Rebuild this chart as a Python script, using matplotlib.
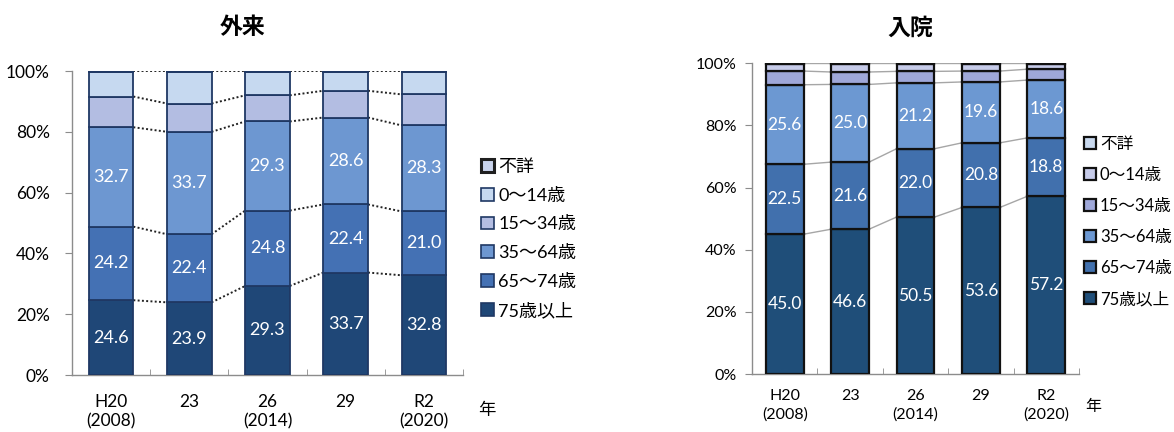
import matplotlib
matplotlib.use("Agg")
import matplotlib.pyplot as plt
from matplotlib.patches import Patch
import numpy as np

plt.rcParams['font.family'] = ['Lato', 'Noto Sans CJK JP', 'DejaVu Sans']

categories = ["H20\n(2008)", "23", "26\n(2014)", "29", "R2\n(2020)"]
groups = ["75歳以上", "65～74歳", "35～64歳", "15～34歳", "0～14歳", "不詳"]

# 外来 (outpatient) shares, %
out_75 = [24.6, 23.9, 29.3, 33.7, 32.8]
out_65 = [24.2, 22.4, 24.8, 22.4, 21.0]
out_35 = [32.7, 33.7, 29.3, 28.6, 28.3]
out_15 = [10.1, 9.3, 8.6, 8.8, 10.2]
out_0 = [8.1, 10.5, 7.8, 6.3, 7.5]
out_unk = [0.3, 0.2, 0.2, 0.2, 0.2]

# 入院 (inpatient) shares, %
in_75 = [45.0, 46.6, 50.5, 53.6, 57.2]
in_65 = [22.5, 21.6, 22.0, 20.8, 18.8]
in_35 = [25.6, 25.0, 21.2, 19.6, 18.6]
in_15 = [4.4, 4.0, 3.7, 3.5, 3.5]
in_0 = [2.2, 2.5, 2.3, 2.2, 1.6]
in_unk = [0.3, 0.3, 0.3, 0.3, 0.3]

W, H = 1174, 432
fig = plt.figure(figsize=(W / 100, H / 100), dpi=100)


def px_axes(x0, y_top, x1, y_bot):
    return fig.add_axes([x0 / W, (H - y_bot) / H, (x1 - x0) / W, (y_bot - y_top) / H])


def draw(ax, series, colors, edge, edge_lw, width, line_style, labelled, lab_fs, tick_fs, pad_x, pad_y, lsp):
    x = np.arange(len(categories))
    bottom = np.zeros(len(categories))
    tops = []
    for i, vals in enumerate(series):
        vals = np.array(vals, dtype=float)
        ax.bar(x, vals, width, bottom=bottom, color=colors[i], edgecolor=edge,
               linewidth=edge_lw, zorder=3)
        if i in labelled:
            for xi, b, v in zip(x, bottom, vals):
                ax.text(xi, b + v / 2, f"{v:.1f}", ha='center', va='center',
                        color='white', fontsize=lab_fs, zorder=4)
        bottom = bottom + vals
        tops.append(bottom.copy())
    # connector lines
    for idx in [0, 1, 2, 3, len(series) - 1]:
        t = tops[idx]
        for j in range(len(categories) - 1):
            ax.plot([x[j] + width / 2, x[j + 1] - width / 2], [t[j], t[j + 1]], zorder=2, **line_style)
    ax.set_xlim(-0.5, len(categories) - 0.5)
    ax.set_ylim(0, 100)
    for s in ['top', 'right']:
        ax.spines[s].set_visible(False)
    for s in ['left', 'bottom']:
        ax.spines[s].set_color('#8c8c8c')
        ax.spines[s].set_linewidth(1.0)
    ax.set_yticks(np.arange(0, 101, 20))
    ax.set_yticklabels([f"{v}%" for v in range(0, 101, 20)], fontsize=tick_fs)
    ax.tick_params(axis='y', direction='out', length=5, color='#8c8c8c', pad=pad_y)
    ax.set_xticks(x)
    ax.set_xticklabels(categories, fontsize=tick_fs, linespacing=lsp)
    ax.tick_params(axis='x', length=0, pad=pad_x)
    ax.set_xticks(np.arange(-0.5, len(categories), 1.0), minor=True)
    ax.tick_params(axis='x', which='minor', direction='in', length=4, color='#8c8c8c')


# ---- left: 外来 ----
axL = px_axes(72, 71, 463, 375)
colL = ['#1f4777', '#4471b4', '#6d97d1', '#b3bde2', '#c6d9f0', '#c9d3ec']
draw(axL, [out_75, out_65, out_35, out_15, out_0, out_unk], colL, '#1f3864', 1.3, 0.57,
     dict(color='#222222', lw=1.4, linestyle=(0, (1, 1.2))), [0, 1, 2], 13, 12.5, 13.5, 11, 1.25)
fig.text(243 / W, 1 - 28 / H, "外来", ha='center', va='center', fontsize=16.5, fontweight='bold',
         family=['Noto Sans CJK JP'])
fig.text(487 / W, 1 - 410 / H, "年", ha='center', va='center', fontsize=12.5)
hL = [Patch(facecolor=c, edgecolor='#1f1f1f' if k == 5 else '#1f3864', linewidth=2.2 if k == 5 else 1.2)
      for k, c in enumerate(colL)]
fig.legend(hL[::-1], groups[::-1], loc='upper left', bbox_to_anchor=(481 / W, 1 - 159 / H),
           frameon=False, fontsize=13, handlelength=0.7, handleheight=0.7,
           handletextpad=0.25, labelspacing=0.7, borderaxespad=0, borderpad=0)

# ---- right: 入院 ----
axR = px_axes(752, 63.3, 1079, 374)
colR = ['#1f4e79', '#4170ad', '#6c98d2', '#9fa8d9', '#c6cbe9', '#c9d9ef']
draw(axR, [in_75, in_65, in_35, in_15, in_0, in_unk], colR, '#111111', 1.6, 0.58,
     dict(color='#a6a6a6', lw=1.0, linestyle='-'), [0, 1, 2], 12.5, 11.5, 11, 6, 1.4)
fig.text(910 / W, 1 - 28 / H, "入院", ha='center', va='center', fontsize=16.5, fontweight='bold',
         family=['Noto Sans CJK JP'])
fig.text(1093 / W, 1 - 407 / H, "年", ha='center', va='center', fontsize=11.5)
hR = [Patch(facecolor=c, edgecolor='#111111', linewidth=1.6) for c in colR]
fig.legend(hR[::-1], groups[::-1], loc='upper left', bbox_to_anchor=(1084 / W, 1 - 136 / H),
           frameon=False, fontsize=12, handlelength=0.7, handleheight=0.7,
           handletextpad=0.25, labelspacing=0.9, borderaxespad=0, borderpad=0)

fig.savefig("out.png", dpi=100)
